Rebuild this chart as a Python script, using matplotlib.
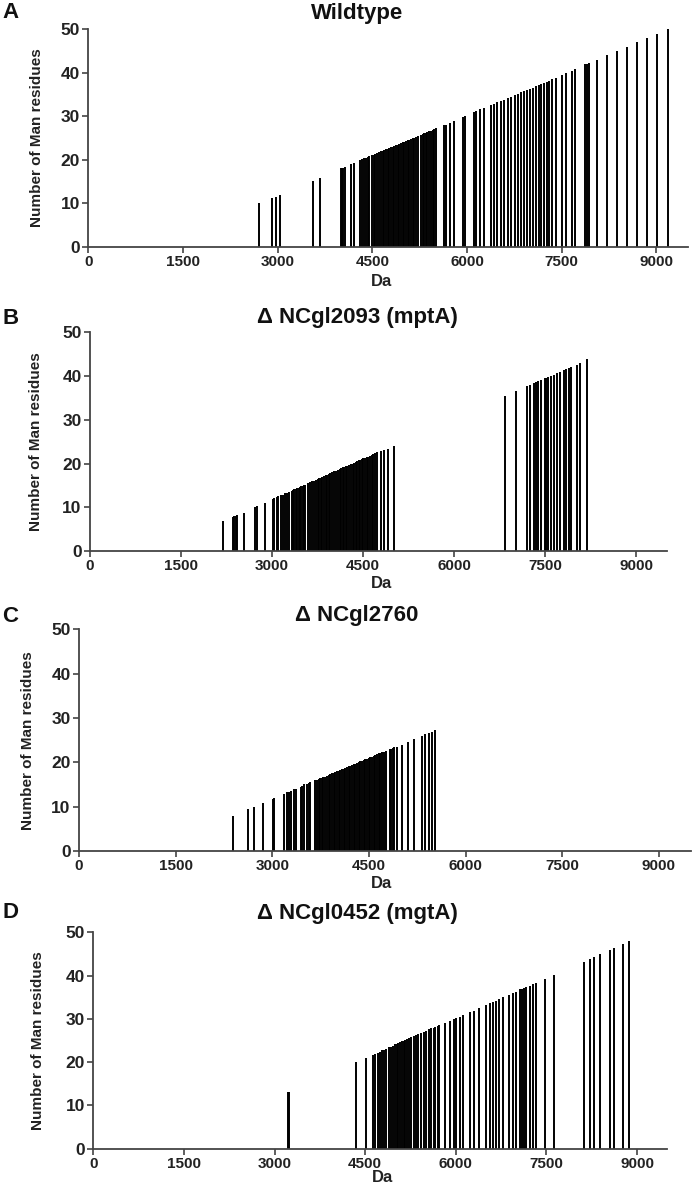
import matplotlib
matplotlib.use("Agg")
import matplotlib.pyplot as plt

plt.rcParams['font.family'] = ['Liberation Sans', 'DejaVu Sans']
plt.rcParams['font.weight'] = 'bold'

# ---- Wildtype ----
wt_da = [2708, 2903, 2966, 3029, 3561, 3676,
         4006, 4022, 4038, 4059, 4159, 4212,
         4306, 4338, 4369, 4396, 4427, 4453, 4495, 4522, 4548, 4574, 4601,
         4638, 4664, 4690, 4717, 4743, 4764, 4795, 4822, 4848, 4875, 4901, 4922,
         4953, 4980, 5006, 5032, 5059, 5080, 5111, 5138, 5164, 5190, 5227, 5264,
         5296, 5322, 5349, 5370, 5401, 5427, 5454, 5480, 5506,
         5632, 5659, 5722, 5789, 5936, 5973,
         6106, 6143, 6212, 6275, 6375, 6422, 6474, 6532, 6591, 6643, 6691,
         6764, 6801, 6853, 6906, 6954, 7001, 7043, 7090, 7132, 7175, 7216,
         7259, 7301, 7343, 7406, 7500, 7570, 7658, 7717, 7870, 7901, 7933,
         8053, 8211, 8369, 8538, 8696, 8854, 9016, 9185]
wt_n = [10, 11.1, 11.5, 12, 15.1, 15.9,
        18.0, 18.1, 18.2, 18.3, 19.1, 19.3,
        19.9, 20.1, 20.3, 20.4, 20.6, 20.8, 21.0, 21.2, 21.3, 21.5, 21.7,
        21.9, 22.1, 22.2, 22.4, 22.5, 22.7, 22.9, 23.0, 23.2, 23.3, 23.5, 23.6,
        23.8, 24.0, 24.1, 24.3, 24.5, 24.6, 24.8, 24.9, 25.1, 25.3, 25.5, 25.7,
        25.9, 26.1, 26.2, 26.3, 26.5, 26.7, 26.9, 27.0, 27.2,
        28.0, 28.1, 28.5, 29.0, 29.9, 30.1,
        31.0, 31.3, 31.7, 32.0, 32.6, 32.8, 33.2, 33.5, 33.8, 34.1, 34.4,
        34.9, 35.2, 35.5, 35.7, 36.1, 36.3, 36.6, 36.9, 37.2, 37.4, 37.7,
        37.9, 38.2, 38.5, 38.9, 39.6, 40.0, 40.5, 40.9, 42.0, 42.1, 42.3,
        43, 44, 45, 46, 47, 48, 49, 50]

# ---- delta NCgl2093 (mptA) ----
mpt_da = [2197, 2350, 2375, 2400, 2420, 2530, 2715, 2755, 2880,
          3011, 3038, 3076, 3103, 3142, 3175, 3213, 3241, 3274,
          3323, 3345, 3368, 3390, 3412, 3435, 3457, 3480, 3502, 3525, 3543,
          3585, 3620, 3660, 3690, 3720, 3750, 3775, 3800, 3825, 3850, 3880,
          3905, 3935, 3955, 3990, 4020, 4050, 4080, 4115, 4140, 4165, 4190,
          4215, 4240, 4265, 4300, 4325, 4350, 4375, 4405, 4430, 4455, 4480,
          4505, 4530, 4555, 4580, 4610, 4640, 4665, 4697, 4735, 4790, 4845,
          4902, 5010,
          6839, 7010, 7197, 7252, 7318, 7345, 7372, 7428, 7494, 7515, 7537,
          7593, 7647, 7691, 7746, 7801, 7845, 7889, 7922, 8021, 8075, 8185]
mpt_n = [6.9, 7.8, 8.0, 8.1, 8.2, 8.8, 10.0, 10.3, 10.9,
         11.9, 12.1, 12.3, 12.5, 12.7, 12.9, 13.2, 13.3, 13.5,
         13.8, 14.0, 14.1, 14.2, 14.4, 14.5, 14.7, 14.8, 14.9, 15.1, 15.2,
         15.5, 15.7, 15.9, 16.1, 16.3, 16.5, 16.6, 16.8, 16.9, 17.1, 17.3,
         17.4, 17.6, 17.8, 18.0, 18.2, 18.3, 18.5, 18.7, 18.9, 19.1, 19.2,
         19.4, 19.5, 19.7, 19.9, 20.0, 20.2, 20.4, 20.5, 20.7, 20.9, 21.0,
         21.2, 21.3, 21.5, 21.6, 21.8, 22.0, 22.2, 22.4, 22.6, 22.9, 23.0,
         23.4, 24.1,
         35.4, 36.6, 37.7, 38.0, 38.5, 38.6, 38.8, 39.1, 39.6, 39.6, 39.7,
         40.0, 40.3, 40.6, 41.0, 41.3, 41.5, 41.8, 42.0, 42.6, 42.9, 43.8]

# ---- delta NCgl2760 ----
c_da = [2387, 2630, 2719, 2853, 3019, 3034, 3185, 3226, 3258, 3293, 3345,
        3371, 3444, 3469, 3500, 3537, 3563, 3589, 3666, 3692, 3718, 3744,
        3770, 3795, 3821, 3847, 3873, 3899, 3925, 3951, 3977, 4003, 4029,
        4055, 4081, 4107, 4133, 4159, 4185, 4210, 4236, 4262, 4288, 4314,
        4340, 4365, 4391, 4417, 4443, 4469, 4495, 4521, 4547, 4573, 4599,
        4625, 4650, 4675, 4700, 4727, 4769, 4821, 4845, 4870, 4895, 4935,
        5013, 5101, 5194, 5324, 5376, 5427, 5479, 5530]
c_n = [7.8, 9.4, 9.9, 10.8, 11.8, 11.9, 12.8, 13.2, 13.4, 13.6, 13.9,
       14.0, 14.5, 14.7, 15.0, 15.2, 15.4, 15.5, 16.0, 16.1, 16.2, 16.4,
       16.5, 16.7, 16.8, 17.0, 17.1, 17.4, 17.5, 17.7, 17.8, 18.0, 18.1,
       18.3, 18.5, 18.6, 18.8, 18.9, 19.1, 19.2, 19.4, 19.6, 19.7, 19.9,
       20.0, 20.2, 20.4, 20.5, 20.7, 20.8, 21.0, 21.1, 21.3, 21.5, 21.6,
       21.8, 22.0, 22.1, 22.3, 22.4, 22.6, 22.9, 23.1, 23.2, 23.4, 23.5,
       24.0, 24.5, 25.2, 26.0, 26.3, 26.5, 26.8, 27.2]

# ---- delta NCgl0452 (mgtA) ----
mgt_da = [3230, 3245, 4350, 4516,
          4627, 4665, 4704, 4737, 4776, 4814, 4847, 4886, 4925, 4958, 4996,
          5024, 5051, 5079, 5107, 5134, 5162, 5189, 5217, 5256, 5300, 5339,
          5382, 5422, 5465, 5510, 5548, 5587, 5631, 5659, 5697, 5725, 5813,
          5907, 5962, 6006, 6061, 6127, 6227, 6293, 6387, 6503, 6558, 6614,
          6664, 6718, 6773, 6884, 6939, 6988, 7055, 7088, 7121, 7154, 7220,
          7276, 7320, 7469, 7629,
          8126, 8225, 8280, 8379, 8545, 8611, 8767, 8871]
mgt_n = [13.2, 13.0, 20.0, 21.0,
         21.7, 21.9, 22.2, 22.4, 22.7, 22.9, 23.1, 23.4, 23.6, 23.8, 24.1,
         24.2, 24.4, 24.6, 24.8, 25.0, 25.1, 25.3, 25.5, 25.7, 26.0, 26.3,
         26.5, 26.8, 27.0, 27.3, 27.6, 27.8, 28.0, 28.2, 28.4, 28.6, 29.0,
         29.6, 30.0, 30.1, 30.5, 30.9, 31.5, 31.9, 32.6, 33.2, 33.6, 33.9,
         34.2, 34.6, 35.0, 35.5, 35.9, 36.3, 36.8, 37.0, 37.2, 37.3, 37.6,
         38.0, 38.2, 39.1, 40.1,
         43.2, 43.8, 44.2, 44.9, 45.9, 46.3, 47.3, 47.9]

titles = ['Wildtype', 'Δ NCgl2093 (mptA)', 'Δ NCgl2760', 'Δ NCgl0452 (mgtA)']
letters = ['A', 'B', 'C', 'D']
xticks = [0, 1500, 3000, 4500, 6000, 7500, 9000]
yticks = [0, 10, 20, 30, 40, 50]

W, H = 693, 1189
fig = plt.figure(figsize=(W / 100, H / 100), dpi=100)

# axes boxes in pixels: left, right, bottom(y of 0), top(y of 50)
boxes = [(88.3, 688, 246.7, 29.3),
         (90, 666.7, 551, 332.3),
         (79, 691, 851, 629.3),
         (93.3, 667.3, 1148.7, 932.3)]
ylab_x = [44, 43.5, 35, 45.5]   # right edge of the rotated y label
title_y = [13, 318, 616, 913]
dalab_y = [281, 583, 883, 1178]

data = [(wt_da, wt_n), (mpt_da, mpt_n), (c_da, c_n), (mgt_da, mgt_n)]

for i, (l, r, b, t) in enumerate(boxes):
    ax = fig.add_axes([l / W, 1 - b / H, (r - l) / W, (b - t) / H])
    da, n = data[i]
    ax.vlines(da, 0, n, colors='#000000', linewidth=1.4)
    ax.set_xlim(0, 9500)
    ax.set_ylim(0, 50)
    ax.set_xticks(xticks)
    ax.set_yticks(yticks)
    for s in ['top', 'right']:
        ax.spines[s].set_visible(False)
    for s in ['left', 'bottom']:
        ax.spines[s].set_color('#444444')
        ax.spines[s].set_linewidth(1.3)
    ax.tick_params(direction='out', length=4, width=1.2, color='#444444',
                   pad=2, labelcolor='#222222')
    ax.tick_params(axis='x', labelsize=11)
    ax.tick_params(axis='y', labelsize=12.5)
    for lab in ax.get_xticklabels() + ax.get_yticklabels():
        lab.set_fontweight('bold')
    ax.set_ylabel('Number of Man residues', fontsize=11, fontweight='bold',
                  color='#222222')
    ax.yaxis.set_label_coords((ylab_x[i] - l) / (r - l), 0.5)
    ax.set_xlabel('Da', fontsize=12, fontweight='bold', color='#222222',
                  va='center')
    ax.xaxis.set_label_coords((382 - l) / (r - l), -(dalab_y[i] - b) / (b - t))
    fig.text(357 / W, 1 - title_y[i] / H, titles[i], ha='center', va='center',
             fontsize=16, fontweight='bold', color='#111111')
    fig.text(10.5 / W, 1 - title_y[i] / H, letters[i], ha='center', va='center',
             fontsize=16, fontweight='bold', color='#111111')

fig.savefig('out.png', dpi=100)
